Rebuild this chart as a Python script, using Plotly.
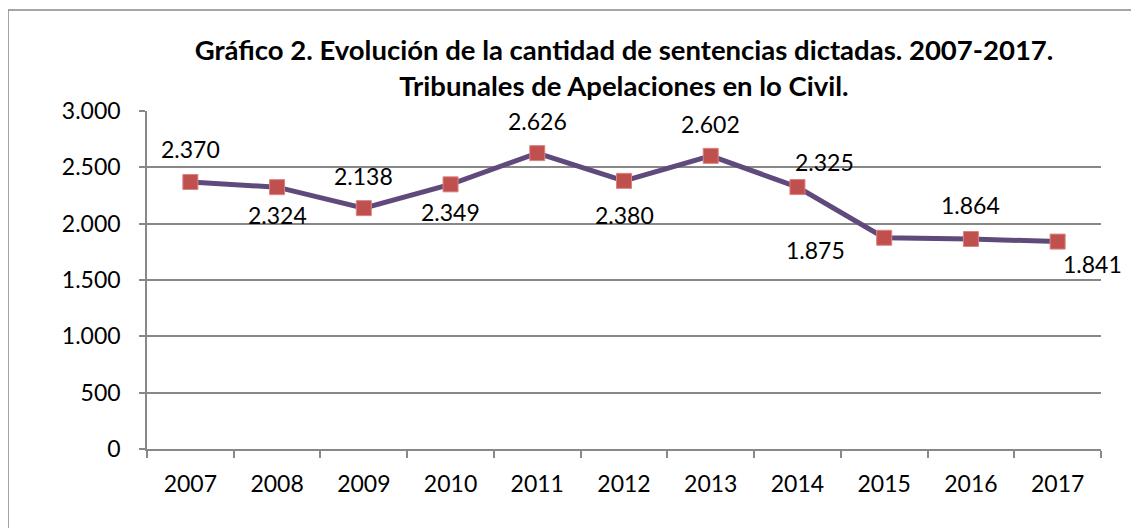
import plotly.graph_objects as go

# data
years = ["2007", "2008", "2009", "2010", "2011", "2012", "2013", "2014", "2015", "2016", "2017"]
sentencias = [2370, 2324, 2138, 2349, 2626, 2380, 2602, 2325, 1875, 1864, 1841]
y_ticks = [0, 500, 1000, 1500, 2000, 2500, 3000]

title_text = ("<b>Gráfico 2. Evolución de la cantidad de sentencias dictadas. 2007-2017.</b><br>"
              "<b>Tribunales de Apelaciones en lo Civil.</b>")

# label offsets (pixels) for each data label, like the Excel layout
label_dx = [0, 0, 0, 0, 0, 0, 0, 27, -69, 0, 35]
label_dy = [33, -28, 32, -28, 32, -34, 32, 25, -12, 34, -22]

FONT = "Lato"
line_col = "#604A7B"
marker_col = "#C0504D"
grid_col = "#888888"

# page has an 8px body margin, plot area wanted at x 147..1101, y 111..449
fig = go.Figure()

fig.add_trace(go.Scatter(
    x=years, y=sentencias, mode="lines+markers",
    line=dict(color=line_col, width=5),
    marker=dict(symbol="square", size=15, color=marker_col,
                line=dict(color="#D9837F", width=1)),
    hoverinfo="skip", showlegend=False,
))

# data labels (x given as category index)
for i, v in enumerate(sentencias):
    txt = f"{v:,}".replace(",", ".")
    fig.add_annotation(x=i, y=v, text=txt, showarrow=False,
                       xshift=label_dx[i], yshift=label_dy[i],
                       font=dict(family=FONT, size=23, color="black"))

# outer chart border (Excel chart area)
fig.add_shape(type="rect", xref="paper", yref="paper",
              x0=(8 - 147) / 954, x1=(1160 - 147) / 954,
              y0=(449 - 560) / 338, y1=(449 - 10) / 338,
              line=dict(color="#888888", width=1.5), fillcolor="rgba(0,0,0,0)",
              layer="below")

fig.update_layout(
    width=1139, height=528,
    margin=dict(l=139, r=46, t=103, b=87),
    paper_bgcolor="white", plot_bgcolor="white",
    separators=",.",
    font=dict(family=FONT, size=23, color="black"),
    title=dict(text=title_text, x=0.5, xref="paper", xanchor="center",
               y=1 - 52 / 528, yref="container", yanchor="middle",
               font=dict(family=FONT, size=27.5, color="black")),
    xaxis=dict(type="category", range=[-0.5, 10.5], showgrid=False,
               showline=True, linecolor=grid_col, linewidth=1.5,
               ticks="outside", ticklen=7, tickcolor=grid_col, tickwidth=1.5,
               tickson="boundaries", ticklabelstandoff=14,
               tickfont=dict(family=FONT, size=23)),
    yaxis=dict(range=[0, 3000], tickvals=y_ticks, tickformat=",d",
               showgrid=True, gridcolor=grid_col, gridwidth=1.5,
               showline=True, linecolor=grid_col, linewidth=1.5,
               ticks="outside", ticklen=6, tickcolor=grid_col, tickwidth=1.5,
               ticklabelstandoff=14, zeroline=False,
               tickfont=dict(family=FONT, size=23)),
)

fig.write_html("out.html")
